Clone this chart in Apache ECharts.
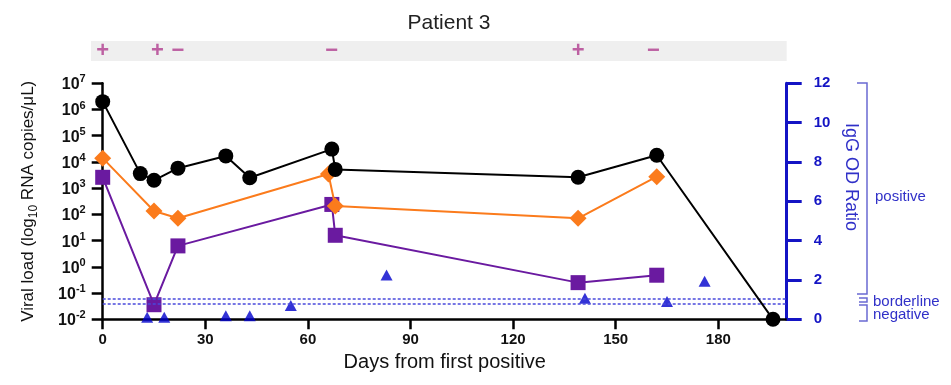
<!DOCTYPE html>
<html>
<head>
<meta charset="utf-8">
<script src="https://cdn.jsdelivr.net/npm/echarts@6.0.0/dist/echarts.min.js"></script>
<style>
  html, body { margin: 0; padding: 0; background: #fff; }
  #chart { width: 951px; height: 385px; }
</style>
</head>
<body>
<div id="chart"></div>
<script>
var FONT = "'Liberation Sans', Arial, sans-serif";
var BLUE = '#1414c4';
var LABEL_BLUE = '#3030c8';

// viral load (copies/uL), log axis
var blackDays = [0, 11, 15, 22, 36, 43, 67, 68, 139, 162, 196];
var blackVals = [2.0e6, 3.6e3, 2.0e3, 5.8e3, 1.7e4, 2.5e3, 3.1e4, 5.2e3, 2.6e3, 1.8e4, 0.01];
var orangeDays = [0, 15, 22, 66, 68, 139, 162];
var orangeVals = [1.4e4, 135, 71, 3.5e3, 210, 71, 2.75e3];
var purpleDays = [0, 15, 22, 67, 68, 139, 162];
var purpleVals = [2.6e3, 0.036, 6.3, 240, 16, 0.25, 0.48];

// IgG OD ratio, right axis
var iggDays = [13, 18, 36, 43, 55, 83, 141, 165, 176];
var iggVals = [0.1, 0.1, 0.18, 0.18, 0.7, 2.25, 1.07, 0.9, 1.93];
var iggCutoffs = [1.03, 0.77];

// +/- strip above the plot
var signDays = [0, 16, 22, 67, 139, 161];
var signs = ['+', '+', '\u2212', '\u2212', '+', '\u2212'];

var xTicks = [0, 30, 60, 90, 120, 150, 180];

function pairs(xs, ys) {
  return xs.map(function (x, i) { return [x, ys[i]]; });
}

var chart = echarts.init(document.getElementById('chart'), null, { renderer: 'canvas' });

chart.setOption({
  animation: false,
  textStyle: { fontFamily: FONT },
  title: {
    text: 'Patient 3', left: 444, top: 8, textAlign: 'center',
    textStyle: { fontSize: 21, fontWeight: 'normal', color: '#222', fontFamily: FONT }
  },
  grid: [
    { left: 102.7, right: 164.3, top: 83.3, bottom: 65.7 },
    { left: 91, right: 164.3, top: 41, height: 20, show: true, backgroundColor: '#efefef', borderWidth: 0 }
  ],
  xAxis: [{
    gridIndex: 0, type: 'value', min: 0, max: 200,
    axisLine: { onZero: false, lineStyle: { color: '#000', width: 2.5 } },
    axisTick: { length: 10, customValues: xTicks, lineStyle: { color: '#000', width: 2.5 } },
    axisLabel: { customValues: xTicks, fontSize: 15, fontWeight: 'bold', color: '#111', margin: 13, fontFamily: FONT },
    splitLine: { show: false },
    name: 'Days from first positive', nameLocation: 'middle', nameGap: 32,
    nameTextStyle: { fontSize: 20, color: '#111', fontFamily: FONT }
  }, {
    gridIndex: 1, type: 'value', min: -3.4, max: 200, show: false
  }],
  yAxis: [{
    gridIndex: 0, type: 'log', logBase: 10, min: 0.01, max: 1e7, splitNumber: 9, position: 'left',
    axisLine: { show: true, lineStyle: { color: '#000', width: 2.5 } },
    axisTick: { show: true, length: 11, lineStyle: { color: '#000', width: 2.5 } },
    axisLabel: {
      margin: 17,
      formatter: function (v) { return '{b|10}{s|' + Math.round(Math.log10(v)) + '}'; },
      rich: {
        b: { fontSize: 16, fontWeight: 'bold', color: '#111', fontFamily: FONT, verticalAlign: 'bottom', lineHeight: 19 },
        s: { fontSize: 11, fontWeight: 'bold', color: '#111', fontFamily: FONT, verticalAlign: 'top', lineHeight: 11 }
      }
    },
    splitLine: { show: false },
    name: 'Viral load (log{sub|10} RNA copies/\u03bcL)', nameLocation: 'middle', nameGap: 63, nameRotate: 90,
    nameTextStyle: {
      fontSize: 17, color: '#111', fontFamily: FONT, lineHeight: 22,
      rich: { sub: { fontSize: 12, color: '#111', fontFamily: FONT, verticalAlign: 'bottom', lineHeight: 14 } }
    }
  }, {
    gridIndex: 0, type: 'value', min: 0, max: 12, interval: 2, position: 'right',
    axisLine: { show: true, lineStyle: { color: BLUE, width: 3 } },
    axisTick: { show: true, length: 15, lineStyle: { color: BLUE, width: 3 } },
    axisLabel: { fontSize: 15, fontWeight: 'bold', color: BLUE, margin: 27, fontFamily: FONT },
    splitLine: { show: false }
  }, {
    gridIndex: 1, type: 'value', min: 0, max: 1, show: false
  }],
  graphic: [
    { type: 'text', x: 851, y: 177, rotation: -Math.PI / 2,
      style: { text: 'IgG OD Ratio', font: '18px ' + FONT, fill: LABEL_BLUE, textAlign: 'center', textVerticalAlign: 'middle' } },
    { type: 'polyline', shape: { points: [[857, 83], [867, 83], [867, 294], [857, 294]] }, style: { stroke: '#6a6ad2', lineWidth: 1.5, fill: null } },
    { type: 'polyline', shape: { points: [[859, 298], [867, 298], [867, 302], [859, 302]] }, style: { stroke: '#6a6ad2', lineWidth: 1.5, fill: null } },
    { type: 'polyline', shape: { points: [[859, 305], [867, 305], [867, 321], [859, 321]] }, style: { stroke: '#6a6ad2', lineWidth: 1.5, fill: null } },
    { type: 'text', x: 875, y: 197, style: { text: 'positive', font: '15px ' + FONT, fill: LABEL_BLUE, textVerticalAlign: 'middle' } },
    { type: 'text', x: 873, y: 302, style: { text: 'borderline', font: '15px ' + FONT, fill: LABEL_BLUE, textVerticalAlign: 'middle' } },
    { type: 'text', x: 873, y: 315, style: { text: 'negative', font: '15px ' + FONT, fill: LABEL_BLUE, textVerticalAlign: 'middle' } }
  ],
  series: [{
    name: 'IgG', type: 'scatter', xAxisIndex: 0, yAxisIndex: 1,
    data: pairs(iggDays, iggVals),
    symbol: 'triangle', symbolSize: [12, 11],
    itemStyle: { color: '#0000cc' },
    markLine: {
      silent: true, symbol: 'none', label: { show: false },
      lineStyle: { color: '#4a4adc', width: 1.5, type: [3, 2] },
      data: iggCutoffs.map(function (c) { return { yAxis: c }; })
    },
    z: 3
  }, {
    name: 'purple', type: 'line', xAxisIndex: 0, yAxisIndex: 0,
    data: pairs(purpleDays, purpleVals),
    symbol: 'rect', symbolSize: 15,
    itemStyle: { color: '#6a1aa0' },
    lineStyle: { color: '#6a1aa0', width: 2 },
    z: 4
  }, {
    name: 'orange', type: 'line', xAxisIndex: 0, yAxisIndex: 0,
    data: pairs(orangeDays, orangeVals),
    symbol: 'diamond', symbolSize: 17,
    itemStyle: { color: '#fb7b1c' },
    lineStyle: { color: '#fb7b1c', width: 2 },
    z: 5
  }, {
    name: 'black', type: 'line', xAxisIndex: 0, yAxisIndex: 0,
    data: pairs(blackDays, blackVals),
    symbol: 'circle', symbolSize: 15,
    itemStyle: { color: '#000' },
    lineStyle: { color: '#000', width: 2 },
    z: 6
  }, {
    name: 'signs', type: 'scatter', xAxisIndex: 1, yAxisIndex: 2,
    data: signDays.map(function (d) { return [d, 0.5]; }),
    symbolSize: 0,
    label: {
      show: true, position: 'inside',
      formatter: function (p) { return signs[p.dataIndex]; },
      color: '#b03c8e', fontSize: 22, fontWeight: 'bold', fontFamily: FONT
    }
  }]
});
</script>
</body>
</html>
